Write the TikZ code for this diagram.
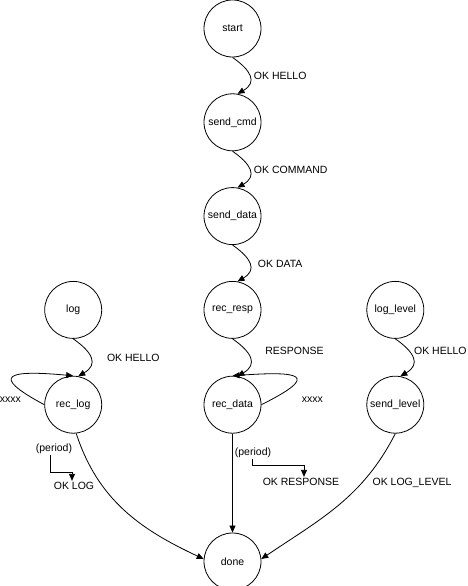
\documentclass[tikz,border=0pt]{standalone}
\usepackage{fontspec}
\setmainfont{Liberation Sans}
\usetikzlibrary{positioning,arrows.meta,calc}

\begin{document}
\begin{tikzpicture}[x=1pt,y=1pt,thick,font=\fontsize{10.5}{12}\selectfont,
  state/.style={draw,circle,minimum size=57pt,inner sep=0pt},
  lbl/.style={inner sep=1pt},
  arr/.style={-{Triangle[length=7pt,width=6pt]}},
  hop/.style={out=-35,in=30,looseness=1.6}]
  \useasboundingbox (0,0) rectangle (468,586);
  % middle column
  \node[state] (start) at (232.5,557.5) {start};
  \node[state,below=36pt of start] (sendcmd) {send\_cmd};
  \node[state,below=36pt of sendcmd] (senddata) {send\_data};
  \node[state,below=36pt of senddata] (recresp) {rec\_resp};
  \node[state,below=37pt of recresp] (recdata) {rec\_data};
  \node[state,below=99pt of recdata] (done) {done};
  % side columns
  \node[state,left=101.5pt of recresp] (log) {log};
  \node[state,below=37pt of log] (reclog) {rec\_log};
  \node[state,right=105pt of recresp] (loglevel) {log\_level};
  \node[state,below=37pt of loglevel] (sendlevel) {send\_level};
  % free labels
  \node[lbl,left=22pt of reclog,yshift=5pt] (xlog) {xxxx};
  \node[lbl,right=39pt of recdata,yshift=5pt] (xdata) {xxxx};
  \node[lbl] (plog) at (54,137) {(period)};
  \node[lbl] (oklog) at (74,100) {OK LOG};
  \node[lbl] (prsp) at (253,133) {(period)};
  \node[lbl] (okrsp) at (301,104) {OK RESPONSE};
  \node[lbl] (oklvl) at (412,103) {OK LOG\_LEVEL};
  % transitions
  \draw[arr] (start.south) to[hop] node[lbl,right=3pt] (lhello) {OK HELLO} (sendcmd.80);
  \draw[arr] (sendcmd.south) to[hop] node[lbl,right=3pt] (lcmd) {OK COMMAND} (senddata.80);
  \draw[arr] (senddata.south) to[hop] node[lbl,right=7pt] (ldata) {OK DATA} (recresp.80);
  \draw[arr] (recresp.south) to[hop] node[lbl,right=14pt,yshift=7pt] (lrsp) {RESPONSE} (recdata.80);
  \draw[arr] (log.south) to[hop] node[lbl,right=15pt] (lloghello) {OK HELLO} (reclog.80);
  \draw[arr] (loglevel.south) to[hop] node[lbl,right=0pt,yshift=7pt] (llvlhello) {OK HELLO} (sendlevel.80);
  \draw[arr] (reclog.west) .. controls +(-56,30) and +(-65,6) .. (reclog.north);
  \draw[arr] (recdata.east) .. controls +(60,30) and +(68,5) .. (recdata.north);
  \draw[arr] (reclog.-84) to[out=-72,in=155] (done.175);
  \draw[arr] (recdata.south) -- (done.north);
  \draw[arr] (sendlevel.south) to[out=-117,in=34] (done.5);
  \draw[arr] ([xshift=-4pt]plog.south) |- ([xshift=-2pt,yshift=8pt]oklog.north) -- ([xshift=-2pt]oklog.north);
  \draw[arr] ([xshift=-1pt]prsp.south) |- ([xshift=3pt,yshift=11pt]okrsp.north) -- ([xshift=3pt]okrsp.north);
\end{tikzpicture}
\end{document}
